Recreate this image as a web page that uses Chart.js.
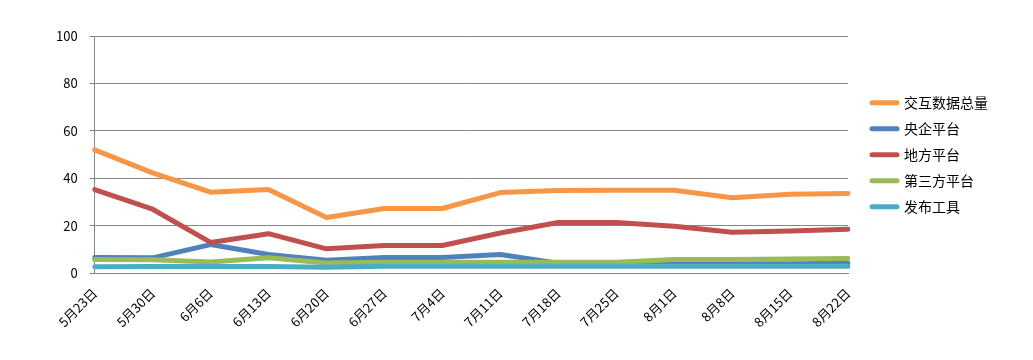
<!DOCTYPE html>
<html>
<head>
<meta charset="utf-8">
<script src="https://cdn.jsdelivr.net/npm/chart.js@4/dist/chart.umd.min.js"></script>
<style>
  html, body { margin: 0; padding: 0; background: #fff; }
  #wrap { width: 1033px; height: 360px; }
</style>
</head>
<body>
<div id="wrap"><canvas id="myChart"></canvas></div>
<script>
// categories (weeks)
const dateLabels = ['5月23日','5月30日','6月6日','6月13日','6月20日','6月27日','7月4日',
  '7月11日','7月18日','7月25日','8月1日','8月8日','8月15日','8月22日'];

// series values
const jiaohu   = [52, 42.3, 34.2, 35.3, 23.5, 27.3, 27.3, 34, 34.9, 35, 35, 31.8, 33.3, 33.6];
const yangqi   = [6.6, 6.5, 12.1, 7.9, 5.5, 6.6, 6.6, 7.9, 4.2, 4.0, 4.0, 4.0, 4.0, 4.2];
const difang   = [35.3, 27, 13, 16.7, 10.3, 11.7, 11.7, 17, 21.4, 21.4, 19.8, 17.3, 17.8, 18.6];
const disanfang= [5.8, 5.7, 4.8, 6.5, 4.3, 4.6, 4.6, 4.6, 4.6, 4.6, 5.8, 5.8, 6.0, 6.2];
const fabu     = [2.8, 2.9, 2.9, 2.9, 2.5, 3.0, 3.0, 3.0, 3.0, 3.0, 3.0, 3.0, 3.0, 3.0];

const seriesNames = ['交互数据总量','央企平台','地方平台','第三方平台','发布工具'];
const seriesColors = ['#F79646','#4F81BD','#C0504D','#9BBB59','#4BACC6'];
const seriesValues = [jiaohu, yangqi, difang, disanfang, fabu];

const gridColor = '#868686';
const cjk = '"Noto Sans CJK SC", "Noto Sans", sans-serif';

const datasets = seriesValues.map((vals, i) => ({
  label: seriesNames[i],
  data: vals,
  borderColor: seriesColors[i],
  backgroundColor: seriesColors[i],
  borderWidth: 5,
  pointRadius: 0,
  pointHoverRadius: 0,
  tension: 0,
  fill: false,
  borderCapStyle: 'round',
  borderJoinStyle: 'round',
  // later series drawn on top, like the original
  order: seriesValues.length - 1 - i
}));

const ctx = document.getElementById('myChart').getContext('2d');
new Chart(ctx, {
  type: 'line',
  data: { labels: dateLabels, datasets },
  options: {
    responsive: true,
    maintainAspectRatio: false,
    animation: false,
    layout: { padding: { left: 44, top: 36, right: 35, bottom: 23 } },
    plugins: {
      tooltip: { enabled: false },
      // empty subtitle used only as a gap between plot and legend
      subtitle: {
        display: true,
        text: '',
        position: 'right',
        fullSize: false,
        weight: 500,
        font: { size: 1, lineHeight: 1 },
        padding: { top: 6, bottom: 5 }
      },
      legend: {
        position: 'right',
        fullSize: false,
        reverse: true,
        labels: {
          usePointStyle: true,
          pointStyle: 'line',
          pointStyleWidth: 25,
          boxHeight: 5,
          padding: 12,
          color: '#000',
          font: { family: cjk, size: 14 },
          generateLabels(chart) {
            const items = Chart.defaults.plugins.legend.labels.generateLabels(chart);
            items.forEach(it => { it.lineWidth = 5; it.lineCap = 'round'; it.pointStyle = 'line'; });
            return items;
          }
        }
      }
    },
    scales: {
      x: {
        offset: false,
        grid: { display: false, drawTicks: true, tickLength: 5, tickColor: gridColor },
        border: { display: true, color: gridColor, width: 1 },
        ticks: {
          autoSkip: false,
          minRotation: 45,
          maxRotation: 45,
          color: '#000',
          padding: 7,
          font: { family: cjk, size: 13 }
        }
      },
      y: {
        min: 0,
        max: 100,
        grid: { color: gridColor, lineWidth: 1, tickLength: 5, tickColor: gridColor },
        border: { display: true, color: gridColor, width: 1 },
        ticks: {
          stepSize: 20,
          color: '#000',
          padding: 12,
          font: { family: cjk, size: 13 }
        }
      }
    }
  }
});
</script>
</body>
</html>
